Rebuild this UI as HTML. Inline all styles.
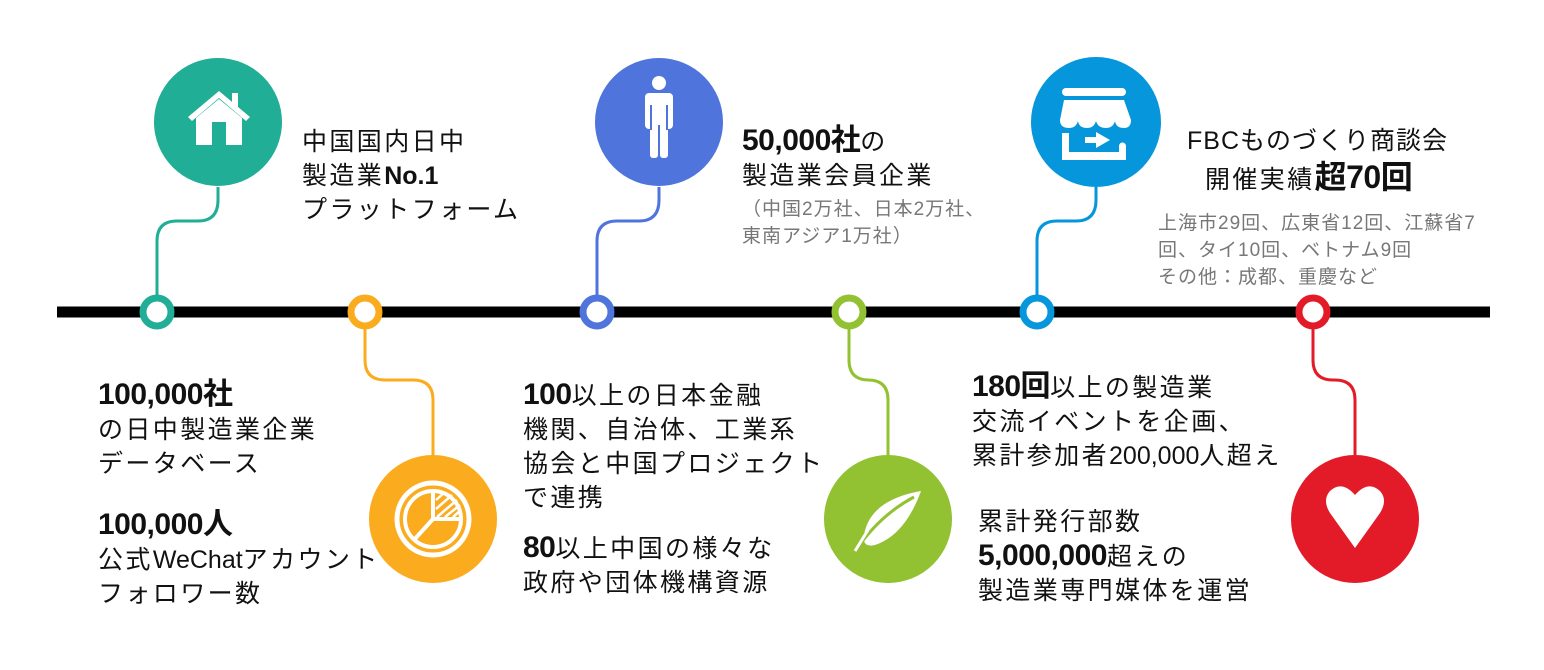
<!DOCTYPE html>
<html><head><meta charset="utf-8"><style>
html,body{margin:0;padding:0;background:#fff;}
body{width:1544px;height:670px;position:relative;overflow:hidden;font-family:"Liberation Sans","Noto Sans CJK JP",sans-serif;color:#111;}
.t{position:absolute;font-size:25px;line-height:34px;white-space:nowrap;letter-spacing:2.4px;}
.b{font-weight:bold;font-size:30px;letter-spacing:-0.5px;}
.n{letter-spacing:0;}
.g{color:#777;font-size:19px;line-height:27px;letter-spacing:1px;}
svg{position:absolute;left:0;top:0;}
</style></head><body>
<svg width="1544" height="670" viewBox="0 0 1544 670">
<g fill="none" stroke-width="3">
<path d="M218,187 V200 Q218,221 198,221 H177 Q157,221 157,241 V300" stroke="#20ae96"/>
<path d="M659,187 V200 Q659,221 639,221 H617 Q597,221 597,241 V300" stroke="#4f74dc"/>
<path d="M1096,187 V200 Q1096,221 1076,221 H1057 Q1037,221 1037,241 V300" stroke="#0596db"/>
<path d="M365,325 V360 Q365,380 385,380 H413 Q433,380 433,400 V456" stroke="#fbab1e"/>
<path d="M849,325 V360 Q849,380 869,380 H868 Q888,380 888,400 V456" stroke="#92c131"/>
<path d="M1313,325 V360 Q1313,380 1333,380 H1335 Q1355,380 1355,400 V456" stroke="#e31b28"/>
</g>
<line x1="57" y1="312" x2="1490" y2="312" stroke="#000" stroke-width="11"/>
<g fill="#fff" stroke-width="7">
<circle cx="157" cy="312" r="14" stroke="#20ae96"/>
<circle cx="365" cy="312" r="14" stroke="#fbab1e"/>
<circle cx="597" cy="312" r="14" stroke="#4f74dc"/>
<circle cx="849" cy="312" r="14" stroke="#92c131"/>
<circle cx="1037" cy="312" r="14" stroke="#0596db"/>
<circle cx="1313" cy="312" r="14" stroke="#e31b28"/>
</g>
<circle cx="218" cy="122" r="64" fill="#20ae96"/>
<circle cx="659" cy="122" r="64" fill="#4f74dc"/>
<circle cx="1096" cy="122" r="65" fill="#0596db"/>
<circle cx="433" cy="519" r="64" fill="#fbab1e"/>
<circle cx="888" cy="519" r="64" fill="#92c131"/>
<circle cx="1355" cy="519" r="64" fill="#e31b28"/>
<g fill="#fff">
<polygon points="188,117 219,91 250,117 246,121 219,98 192,121"/>
<rect x="232" y="93" width="6" height="14"/>
<polygon points="196,118 219,99 242,118 242,145 226,145 226,122 212,122 212,145 196,145"/>
</g>
<g fill="#fff">
<circle cx="659" cy="83" r="7"/>
<rect x="645" y="93" width="28" height="36" rx="4"/>
<rect x="650" y="120" width="8" height="38" rx="3"/>
<rect x="660" y="120" width="8" height="38" rx="3"/>
</g>
<g stroke="#4f74dc" stroke-width="2"><line x1="651" y1="105" x2="651" y2="130"/><line x1="667" y1="105" x2="667" y2="130"/><line x1="659" y1="125" x2="659" y2="158"/></g>
<g fill="#fff">
<rect x="1062" y="88" width="64" height="8" rx="4"/>
<path d="M1064,100 H1124 L1131,120 Q1131,128 1124,128 Q1116,128 1115,121 Q1113,128 1106,128 Q1098,128 1096,121 Q1094,128 1087,128 Q1079,128 1078,121 Q1076,128 1069,128 Q1060,128 1060,120 Z"/>
<path d="M1062,133 h7 v19 h50 v-6 a3,3 0 0 1 7,0 v14 h-64 z"/>
<rect x="1085" y="137" width="12" height="6"/>
<polygon points="1096,132 1110,140 1096,148"/>
</g>
<circle cx="433" cy="519" r="36" fill="none" stroke="#fff" stroke-width="5"/>
<circle cx="433" cy="519" r="28" fill="none" stroke="#fff" stroke-width="4"/>
<path d="M433,491 V519 H461" fill="none" stroke="#fff" stroke-width="4"/>
<line x1="433" y1="519" x2="413" y2="541" stroke="#fff" stroke-width="4"/>
<g stroke="#fff" stroke-width="2.5"><line x1="436" y1="500" x2="445" y2="492"/><line x1="436" y1="509" x2="452" y2="495"/><line x1="437" y1="517" x2="457" y2="500"/><line x1="445" y1="517" x2="460" y2="505"/><line x1="453" y1="517" x2="461" y2="510"/></g>
<path d="M921,491 Q870,500 864,535 Q862,548 875,545 Q905,535 921,491 Z" fill="#fff"/>
<path d="M856,550 Q880,515 914,497" fill="none" stroke="#92c131" stroke-width="3"/>
<path d="M855,551 L868,530" stroke="#fff" stroke-width="3"/>
<path d="M1355,548 L1330,513 Q1322,500 1330,491 Q1342,480 1355,495 Q1368,480 1380,491 Q1388,500 1380,513 Z" fill="#fff"/>
</svg>

<div class="t" style="left:302px;top:125px;">中国国内日中<br>製造業<b class="n">No.1</b><br>プラットフォーム</div>
<div class="t" style="left:742px;top:124px;"><span class="b">50,000社</span>の<br>製造業会員企業</div>
<div class="t g" style="left:742px;top:196px;">（中国2万社、日本2万社、<br>東南アジア1万社）</div>
<div class="t" style="left:1187px;top:124px;letter-spacing:1px;">FBCものづくり商談会</div>
<div class="t" style="left:1205px;top:160px;">開催実績<span class="b" style="font-size:32px;">超70回</span></div>
<div class="t g" style="left:1158px;top:210px;">上海市29回、広東省12回、江蘇省7<br>回、タイ10回、ベトナム9回<br>その他：成都、重慶など</div>

<div class="t" style="left:98px;top:378px;"><span class="b">100,000社</span><br>の日中製造業企業<br>データベース</div>
<div class="t" style="left:98px;top:508px;"><span class="b">100,000人</span><br>公式<span class="n">WeChat</span>アカウント<br>フォロワー数</div>
<div class="t" style="left:523px;top:378px;"><span class="b">100</span>以上の日本金融<br>機関、自治体、工業系<br>協会と中国プロジェクト<br>で連携</div>
<div class="t" style="left:523px;top:531px;"><span class="b">80</span>以上中国の様々な<br>政府や団体機構資源</div>
<div class="t" style="left:972px;top:370px;"><span class="b">180回</span>以上の製造業<br>交流イベントを企画、<br>累計参加者<span class="n">200,000</span>人超え</div>
<div class="t" style="left:978px;top:505px;">累計発行部数<br><span class="b">5,000,000</span>超えの<br>製造業専門媒体を運営</div>
</body></html>
